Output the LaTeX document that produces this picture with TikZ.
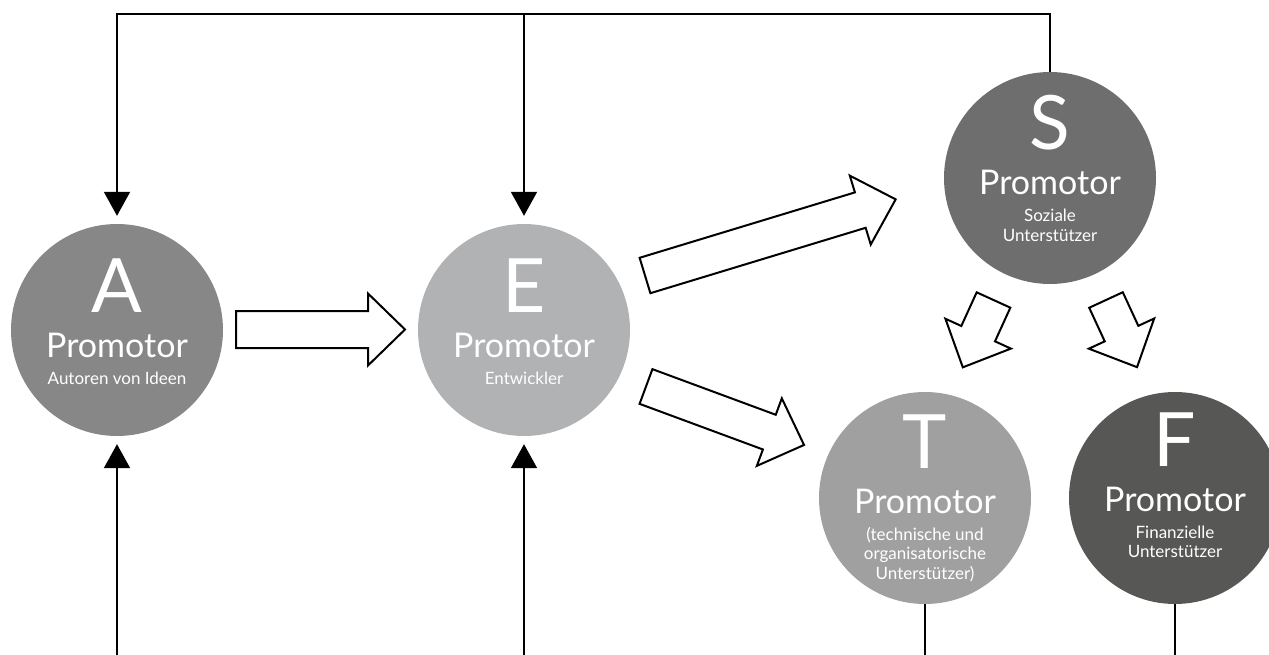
\documentclass[tikz,border=0pt]{standalone}
\usepackage{fontspec}
\setmainfont{Lato}
\usetikzlibrary{arrows.meta,calc}

\definecolor{promoA}{RGB}{135,135,135}
\definecolor{promoE}{RGB}{177,178,180}
\definecolor{promoS}{RGB}{110,110,110}
\definecolor{promoT}{RGB}{160,160,160}
\definecolor{promoF}{RGB}{87,87,86}

\tikzset{
  promo/.style={circle, minimum size=212pt, inner sep=0pt},
  bigletter/.style={text=white, anchor=base, inner sep=0pt, font=\fontsize{75}{75}\selectfont},
  promotitle/.style={text=white, anchor=base, inner sep=0pt, font=\fontsize{34}{34}\selectfont},
  promosub/.style={text=white, anchor=base, inner sep=0pt, font=\fontsize{17}{19.5}\selectfont},
  feedback/.style={line width=2pt, -{Triangle[width=26pt,length=24pt]}, shorten >=8pt},
  fatarrow/.style={draw, line width=2pt, fill=white, line join=miter}
}

% name, position, colour, letter, description, letter baseline
\newcommand\promotor[6]{%
  \node[promo, fill=#3] (#1) at (#2) {};
  \node[bigletter] (#1-letter) at ($(#1.center)+(0,#6)$) {#4};
  \node[promotitle] (#1-title) at ($(#1.center)+(0,#6+45)$) {Promotor};
  \node[promosub] (#1-sub) at ($(#1.center)+(0,#6+72)$) {\begin{tabular}[t]{@{}c@{}}#5\end{tabular}};
}

% tail, angle, length
\newcommand\fatarrow[3]{%
  \draw[fatarrow, shift={#1}, rotate=#2] (0,-18.5) -- (#3-37,-18.5) -- (#3-37,-36) -- (#3,0)
    -- (#3-37,36) -- (#3-37,18.5) -- (0,18.5) -- cycle;
}

\begin{document}
\begin{tikzpicture}[x=1pt, y=-1pt, line join=miter]
  \useasboundingbox (0,0) rectangle (1269,655);

  % the five promotors
  \promotor{A}{117,330}{promoA}{A}{Autoren von Ideen}{-18}
  \promotor{E}{524,330}{promoE}{E}{Entwickler}{-18}
  \promotor{S}{1050,178}{promoS}{S}{Soziale\\Unterstützer}{-28}
  \promotor{T}{925,498}{promoT}{T}{(technische und\\organisatorische\\Unterstützer)}{-30}
  \promotor{F}{1175,498}{promoF}{F}{Finanzielle\\Unterstützer}{-32}

  % block arrows
  \fatarrow{(236,329.5)}{0}{169}
  \fatarrow{(645,275.5)}{16.9}{262}
  \fatarrow{(646,386.5)}{-20.3}{168.5}
  \fatarrow{(993.5,300)}{-114.5}{74}
  \fatarrow{(1106,300)}{-65.2}{74}

  % feedback lines
  \coordinate (top) at (0,14);
  \coordinate (bottom) at (0,660);
  \draw[feedback] (S.north) |- (A.north |- top) -- (A.north);
  \draw[feedback] (E.north |- top) -- (E.north);
  \draw[feedback] (A.south |- bottom) -- (A.south);
  \draw[feedback] (E.south |- bottom) -- (E.south);
  \draw[line width=2pt] (T.south) -- (T.south |- bottom);
  \draw[line width=2pt] (F.south) -- (F.south |- bottom);
\end{tikzpicture}
\end{document}
